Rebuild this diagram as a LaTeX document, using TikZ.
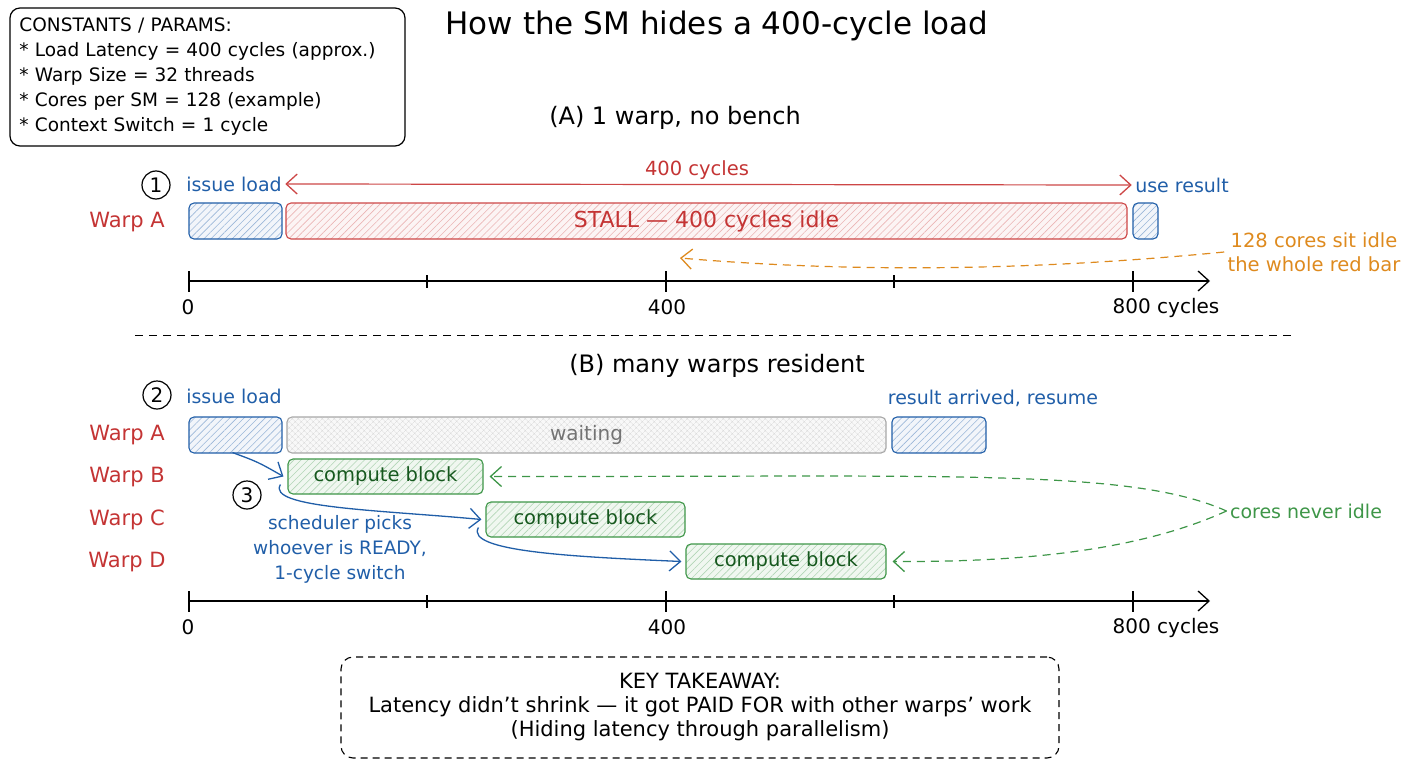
\documentclass[tikz,border=0pt]{standalone}
\usepackage{fontspec}
\setmainfont{DejaVu Sans}
\usetikzlibrary{calc,patterns.meta,arrows.meta}

\definecolor{warpred}{RGB}{196,52,52}
\definecolor{stallred}{RGB}{205,70,70}
\definecolor{loadblue}{RGB}{32,94,168}
\definecolor{blockgreen}{RGB}{62,150,72}
\definecolor{blocktext}{RGB}{22,88,30}
\definecolor{noteorange}{RGB}{222,138,30}
\definecolor{waitgray}{RGB}{168,168,168}

\tikzset{
  bar/.style={draw,rounded corners=5pt,line width=1.1pt,inner sep=0pt,minimum height=36pt},
  loadbar/.style={bar,draw=loadblue,preaction={fill=loadblue!6},
    pattern={Lines[angle=45,distance=5pt,line width=0.6pt]},pattern color=loadblue!45},
  stallbar/.style={bar,draw=stallred,preaction={fill=stallred!6},
    pattern={Lines[angle=45,distance=5pt,line width=0.6pt]},pattern color=stallred!40,
    text=warpred,font=\fontsize{22}{24}\selectfont},
  waitbar/.style={bar,draw=waitgray,preaction={fill=waitgray!8},
    pattern={Hatch[angle=45,distance=4pt,line width=0.4pt]},pattern color=waitgray!45,
    text=black!55,font=\fontsize{20}{22}\selectfont},
  compbar/.style={bar,minimum height=35pt,draw=blockgreen,preaction={fill=blockgreen!8},
    pattern={Lines[angle=45,distance=5pt,line width=0.6pt]},pattern color=blockgreen!40,
    text=blocktext,font=\fontsize{19.5}{22}\selectfont},
  warplabel/.style={text=warpred,font=\fontsize{21}{24}\selectfont},
  bluetext/.style={text=loadblue,font=\fontsize{19}{22}\selectfont},
  stepnum/.style={circle,draw,line width=1.2pt,minimum size=28pt,inner sep=0pt,font=\fontsize{20}{22}\selectfont},
  ticklabel/.style={font=\fontsize{20}{22}\selectfont},
  axisline/.style={line width=1.2pt},
  schedarrow/.style={draw=loadblue,line width=1.3pt,->},
  greendash/.style={draw=blockgreen,line width=1.2pt,dash pattern=on 8pt off 6pt,->},
}

\begin{document}
\begin{tikzpicture}[x=1pt,y=-1pt,>={Straight Barb[length=11pt,width=20pt,line width=1.3pt]}]
\useasboundingbox (0,0) rectangle (1408,768);

\node[font=\fontsize{31}{34}\selectfont] (title) at (717,26) {How the SM hides a 400-cycle load};

\node[draw,rounded corners=10pt,line width=1.2pt,minimum width=395pt,minimum height=138pt,
  text width=376pt,inner xsep=4pt,align=left,font=\fontsize{18.5}{25}\selectfont] (params) at (207.5,77)
  {CONSTANTS / PARAMS:\\{*} Load Latency = 400 cycles (approx.)\\{*} Warp Size = 32 threads\\{*} Cores per SM = 128 (example)\\{*} Context Switch = 1 cycle};

% (A) single warp
\node[font=\fontsize{24}{26}\selectfont] (headA) at (675,118) {(A) 1 warp, no bench};

\node[stepnum] (stepA) at (156,185) {1};
\node[bluetext] (issueA) at (234,184) {issue load};
\node[bluetext] (useA) at (1182,185) {use result};
\node[text=warpred,font=\fontsize{19.5}{22}\selectfont] (latA) at (697,170) {400 cycles};
\draw[draw=stallred,line width=1.2pt,<->] (issueA.east) -- (useA.west);

\node[warplabel] (warpA1) at (127,222) {Warp A};
\node[loadbar,minimum width=93pt] (loadA) at (235.5,221) {};
\node[stallbar,minimum width=841pt] (stallA) at (706.5,221) {STALL — 400 cycles idle};
\node[loadbar,minimum width=25pt] (resA) at (1145.5,221) {};

\node[text=noteorange,align=center,font=\fontsize{19.5}{24}\selectfont] (idleNote) at (1314,252) {128 cores sit idle\\the whole red bar};
\coordinate (idleTip) at (680,258);
\draw[draw=noteorange,line width=1.2pt,dash pattern=on 8pt off 6pt,->] (idleNote.west) .. controls (1000,274) and (820,270) .. (idleTip);

\draw[axisline,->] (189,281) -- (1210,281);
\draw[axisline] (189,271) -- (189,292);
\draw[axisline] (427,275) -- (427,288);
\draw[axisline] (666,271) -- (666,292);
\draw[axisline] (894,275) -- (894,288);
\draw[axisline] (1133,271) -- (1133,292);
\node[ticklabel] (tA0) at (188,307) {0};
\node[ticklabel] (tA400) at (667,307) {400};
\node[ticklabel] (tA800) at (1166,308) {800 cycles};

\draw[line width=1pt,dash pattern=on 8pt off 6pt] (135,335) -- (1295,335);

% (B) many warps
\node[font=\fontsize{24}{26}\selectfont] (headB) at (717,366) {(B) many warps resident};

\node[stepnum] (stepB) at (157,395) {2};
\node[bluetext] (issueB) at (234,396) {issue load};
\node[bluetext] (resumeB) at (993,398) {result arrived, resume};

\node[warplabel] (warpA2) at (127,435) {Warp A};
\node[warplabel] (warpB) at (127,477) {Warp B};
\node[warplabel] (warpC) at (127,520) {Warp C};
\node[warplabel] (warpD) at (127,562) {Warp D};

\node[loadbar,minimum width=93pt] (loadB) at (235.5,435) {};
\node[waitbar,minimum width=599pt] (waitB) at (586.5,435) {waiting};
\node[loadbar,minimum width=94pt] (resB) at (939,435) {};

\node[compbar,minimum width=195pt] (compB) at (385.5,476.5) {compute block};
\node[compbar,minimum width=199pt] (compC) at (585.5,519.5) {compute block};
\node[compbar,minimum width=200pt] (compD) at (786,561.5) {compute block};

\node[stepnum] (stepC) at (247,495) {3};
\node[bluetext,align=center,font=\fontsize{18.5}{25}\selectfont] (schedNote) at (340,549) {scheduler picks\\whoever is READY,\\1-cycle switch};

\draw[schedarrow] ($(loadB.south)+(-3,-1)$) .. controls (258,462) .. ($(compB.west)+(-4,0)$);
\draw[schedarrow] ($(compB.west)+(-7,8)$) .. controls (266,508) and (380,510) .. ($(compC.west)+(-4,0)$);
\draw[schedarrow] ($(compC.west)+(-7,8)$) .. controls (464,552) and (580,557) .. ($(compD.west)+(-4,0)$);

\node[text=blockgreen,font=\fontsize{19}{22}\selectfont] (neverNote) at (1306,511) {cores never idle};
\draw[greendash] (neverNote.west) .. controls (1130,468) and (950,477) .. ($(compB.east)+(6,0)$);
\draw[greendash] (neverNote.west) .. controls (1130,555) and (1000,562) .. ($(compD.east)+(6,0)$);

\draw[axisline,->] (189,601) -- (1210,601);
\draw[axisline] (189,591) -- (189,612);
\draw[axisline] (427,595) -- (427,608);
\draw[axisline] (666,591) -- (666,612);
\draw[axisline] (894,595) -- (894,608);
\draw[axisline] (1133,591) -- (1133,612);
\node[ticklabel] (tB0) at (188,627) {0};
\node[ticklabel] (tB400) at (667,627) {400};
\node[ticklabel] (tB800) at (1166,628) {800 cycles};

\node[draw,rounded corners=12pt,line width=1.1pt,dash pattern=on 7pt off 5pt,
  minimum width=718pt,minimum height=101pt,align=center,font=\fontsize{21}{24}\selectfont] (takeaway) at (700,707.5)
  {KEY TAKEAWAY:\\Latency didn't shrink — it got PAID FOR with other warps' work\\(Hiding latency through parallelism)};
\end{tikzpicture}
\end{document}
